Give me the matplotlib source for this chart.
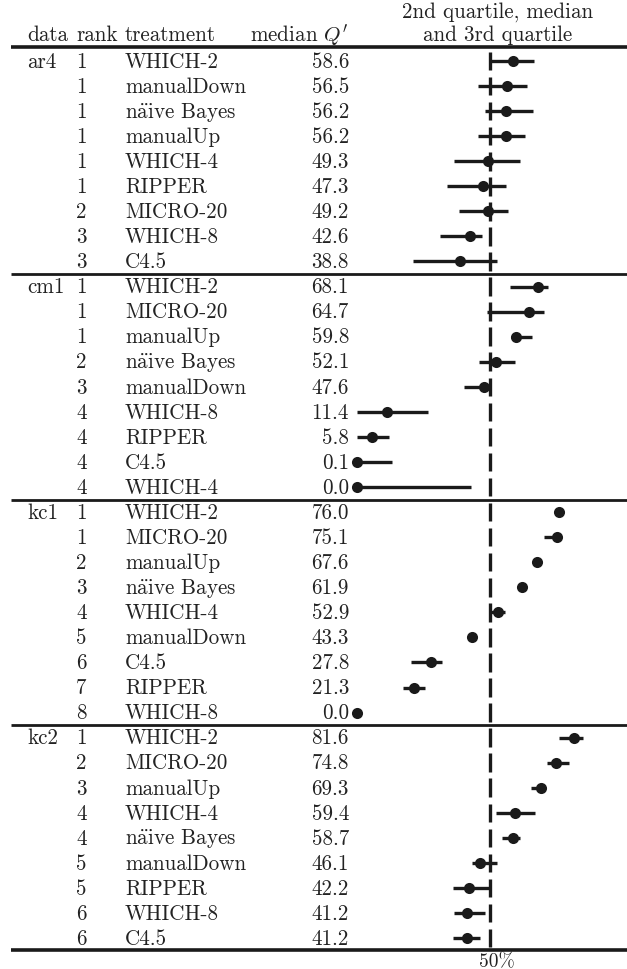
import numpy as np
import matplotlib
matplotlib.use("Agg")
import matplotlib.pyplot as plt

plt.rcParams["font.family"] = ["cmr10", "DejaVu Serif"]
plt.rcParams["mathtext.fontset"] = "cm"
plt.rcParams["axes.unicode_minus"] = False

# data sets and their rows (top to bottom)
datasets = ["ar4", "cm1", "kc1", "kc2"]

NB = r"n$\mathrm{\ddot{a}}$ive Bayes"

ar4_treat = ["WHICH-2", "manualDown", NB, "manualUp", "WHICH-4", "RIPPER", "MICRO-20", "WHICH-8", "C4.5"]
ar4_rank = [1, 1, 1, 1, 1, 1, 2, 3, 3]
ar4_med = [58.6, 56.5, 56.2, 56.2, 49.3, 47.3, 49.2, 42.6, 38.8]
ar4_q1 = [50.5, 45.5, 48.0, 45.6, 36.6, 33.9, 38.4, 31.2, 21.1]
ar4_q3 = [66.5, 64.0, 66.1, 63.2, 61.3, 56.0, 56.8, 47.0, 52.7]

cm1_treat = ["WHICH-2", "MICRO-20", "manualUp", NB, "manualDown", "WHICH-8", "RIPPER", "C4.5", "WHICH-4"]
cm1_rank = [1, 1, 1, 2, 3, 4, 4, 4, 4]
cm1_med = [68.1, 64.7, 59.8, 52.1, 47.6, 11.4, 5.8, 0.1, 0.0]
cm1_q1 = [57.6, 48.9, 57.9, 46.0, 40.3, 0.0, 0.0, 0.0, 0.0]
cm1_q3 = [71.7, 70.2, 65.8, 59.3, 50.0, 26.6, 12.0, 13.2, 42.7]

kc1_treat = ["WHICH-2", "MICRO-20", "manualUp", NB, "WHICH-4", "manualDown", "C4.5", "RIPPER", "WHICH-8"]
kc1_rank = [1, 1, 2, 3, 4, 5, 6, 7, 8]
kc1_med = [76.0, 75.1, 67.6, 61.9, 52.9, 43.3, 27.8, 21.3, 0.0]
kc1_q1 = [76.0, 70.4, 67.6, 61.9, 50.0, 43.3, 20.4, 17.4, 0.0]
kc1_q3 = [76.0, 76.3, 67.6, 61.9, 55.5, 43.3, 31.8, 25.6, 0.0]

kc2_treat = ["WHICH-2", "MICRO-20", "manualUp", "WHICH-4", NB, "manualDown", "RIPPER", "WHICH-8", "C4.5"]
kc2_rank = [1, 2, 3, 4, 4, 5, 5, 6, 6]
kc2_med = [81.6, 74.8, 69.3, 59.4, 58.7, 46.1, 42.2, 41.2, 41.2]
kc2_q1 = [75.9, 71.4, 65.5, 52.3, 54.5, 43.1, 36.2, 36.6, 36.2]
kc2_q3 = [84.8, 79.7, 69.5, 66.8, 61.2, 52.5, 50.1, 48.1, 46.2]

treat = ar4_treat + cm1_treat + kc1_treat + kc2_treat
rank = ar4_rank + cm1_rank + kc1_rank + kc2_rank
med = ar4_med + cm1_med + kc1_med + kc2_med
q1 = ar4_q1 + cm1_q1 + kc1_q1 + kc2_q1
q3 = ar4_q3 + cm1_q3 + kc1_q3 + kc2_q3

n = len(treat)
per = 9
rows = np.arange(n)

W, H = 627, 970
top_px, pitch = 62.0, 25.06
ylo = (H - top_px) / pitch
yhi = -top_px / pitch

ink = "#1a1a1a"
txt = "#222222"

fig = plt.figure(figsize=(W / 100, H / 100), dpi=100)

# table axes: x in pixels, y in row units
tab = fig.add_axes([0, 0, 1, 1])
tab.set_xlim(0, W)
tab.set_ylim(ylo, yhi)
tab.axis("off")

fs = 15.2
x_data, x_rank, x_treat, x_med = 27, 76, 125, 349

# header
tab.text(x_data, -1.08, "data", fontsize=fs, va="center", ha="left", color=txt)
tab.text(x_rank, -1.08, "rank", fontsize=fs, va="center", ha="left", color=txt)
tab.text(x_treat, -1.08, "treatment", fontsize=fs, va="center", ha="left", color=txt)
tab.text(x_med, -1.08, r"median $Q'$", fontsize=fs, va="center", ha="right", color=txt)
tab.text(498, -2.0, "2nd quartile, median", fontsize=fs, va="center", ha="center", color=txt)
tab.text(498, -1.08, "and 3rd quartile", fontsize=fs, va="center", ha="center", color=txt)

for i in rows:
    if i % per == 0:
        tab.text(x_data, i, datasets[i // per], fontsize=fs, va="center", ha="left", color=txt)
    tab.text(x_rank, i, str(rank[i]), fontsize=fs, va="center", ha="left", color=txt)
    tab.text(x_treat, i, treat[i], fontsize=fs, va="center", ha="left", color=txt)
    tab.text(x_med, i, "%.1f" % med[i], fontsize=fs, va="center", ha="right", color=txt)

# rules
tab.plot([11, W], [-0.56, -0.56], color=ink, lw=2.6, solid_capstyle="butt")
for b in range(1, len(datasets)):
    yb = b * per - 0.5
    tab.plot([11, W], [yb, yb], color=ink, lw=2.0, solid_capstyle="butt")
tab.plot([11, W], [n - 0.53, n - 0.53], color=ink, lw=2.6, solid_capstyle="butt")

# 50% label sits right under the bottom rule
tab.text(497, n - 0.43, "50%", fontsize=14, va="top", ha="center", color=txt)

# quartile plot axes
qa = fig.add_axes([357 / W, 0, 266 / W, 1])
qa.set_xlim(0, 100)
qa.set_ylim(ylo, yhi)
qa.axis("off")
qa.patch.set_alpha(0)

# dashed 50% line, one dash per row
qa.vlines(np.full(n, 50.0), rows - 0.37, rows + 0.37, color=ink, lw=2.4)

qa.hlines(rows, q1, q3, color=ink, lw=2.4)
qa.plot(med, rows, "o", color=ink, ms=8, mec="none", clip_on=False)

fig.savefig("out.png", dpi=100)
